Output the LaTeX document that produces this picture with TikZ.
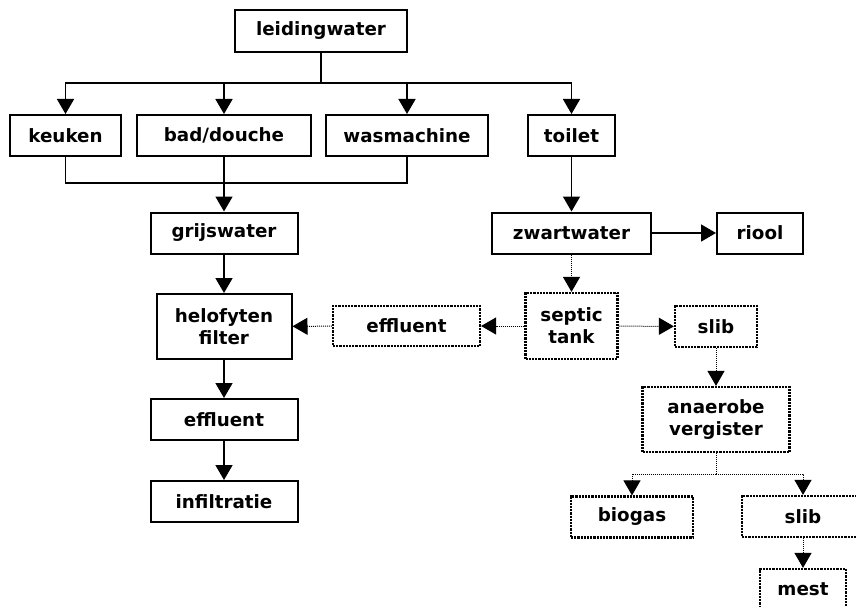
\documentclass[tikz,border=0pt]{standalone}
\usepackage{fontspec}
\setmainfont{DejaVu Sans}
\usepackage{tikz}
\usetikzlibrary{arrows.meta, positioning}
\tikzstyle{block} = [rectangle, draw, line width=2pt, inner sep=0pt,
    font=\bfseries\fontsize{18.3}{22}\selectfont, align=center, minimum height=41pt]
\tikzstyle{optblock} = [block, line width=2.2pt, dash pattern=on 2.2pt off 1pt]
\tikzstyle{pipe} = [draw, line width=1.6pt]
\tikzstyle{line} = [pipe, -{Triangle[width=17pt,length=15pt]}]
\tikzstyle{optpipe} = [draw, line width=1pt, dash pattern=on 1pt off 1pt]
\tikzstyle{optline} = [optpipe, -{Triangle[width=17pt,length=15pt]}]

\begin{document}
\begin{tikzpicture}[x=1pt, y=-1pt]
      \useasboundingbox (0,0) rectangle (856,607);
      % Huishouden
      \node [block, minimum width=172pt, minimum height=42pt] (tapwater) at (321,31) {leidingwater};
      \node [block, minimum width=111pt] (keuken) at (65.5,135.5) {keuken};
      \node [block, minimum width=174pt] (douche) at (224,135.5) {bad/douche};
      \node [block, minimum width=162pt] (wasmachine) at (407,135.5) {wasmachine};
      \node [block, minimum width=87pt] (toilet) at (571.5,135.5) {toilet};
      % Grijswater
      \node [block, minimum width=147pt] (grijswater) at (224,233) {grijswater};
      \node [block, minimum width=135pt, minimum height=65pt] (helofyten) at (224,326.5) {helofyten\\filter};
      \node [block, minimum width=147pt] (effluent) at (224,419.5) {effluent};
      \node [block, minimum width=147pt] (infiltratie) at (224,501.5) {infiltratie};
      % Zwartwater
      \node [block, minimum width=159pt] (zwartwater) at (571.5,233) {zwartwater};
      \node [block, minimum width=86pt] (riool) at (760,233) {riool};
      \node [optblock, minimum width=92pt, minimum height=66pt] (septic) at (571.5,326) {septic\\tank};
      \node [optblock, minimum width=147pt, minimum height=40pt] (septic-effluent) at (406.5,326) {effluent};
      \node [optblock, minimum width=82pt] (slib) at (716,326.5) {slib};
      \node [optblock, minimum width=147pt, minimum height=65pt] (vergister) at (716,419.5) {anaerobe\\vergister};
      \node [optblock, minimum width=122pt] (biogas) at (632,517) {biogas};
      \node [optblock, minimum width=122pt] (slib-rest) at (803,516.5) {slib};
      \node [optblock, minimum width=86pt] (mest) at (803,589.5) {mest};
      % Splitsingen
      \coordinate (tap) at (321,83);
      \coordinate (afvoer) at (224,183);
      \coordinate (gisting) at (716,474);
      % Draw edges
      \path [pipe] (tapwater) -- (tap);
      \path [line] (tap) -| (keuken);
      \path [line] (tap) -| (douche);
      \path [line] (tap) -| (wasmachine);
      \path [line] (tap) -| (toilet);
      \path [pipe] (keuken) |- (afvoer);
      \path [pipe] (wasmachine) |- (afvoer);
      \path [line] (douche) -- (grijswater);
      \path [line] (grijswater) -- (helofyten);
      \path [line] (helofyten) -- (effluent);
      \path [line] (effluent) -- (infiltratie);
      \path [line] (toilet) -- (zwartwater);
      \path [line] (zwartwater) -- (riool);
      \path [optline] (zwartwater) -- (septic);
      \path [optline] (septic) -- (septic-effluent);
      \path [optline] (septic-effluent) -- (helofyten);
      \path [optline] (septic) -- (slib);
      \path [optline] (slib) -- (vergister);
      \path [optpipe] (vergister) -- (gisting);
      \path [optline] (gisting) -| (biogas);
      \path [optline] (gisting) -| (slib-rest);
      \path [optline] (slib-rest) -- (mest);
\end{tikzpicture}
\end{document}
